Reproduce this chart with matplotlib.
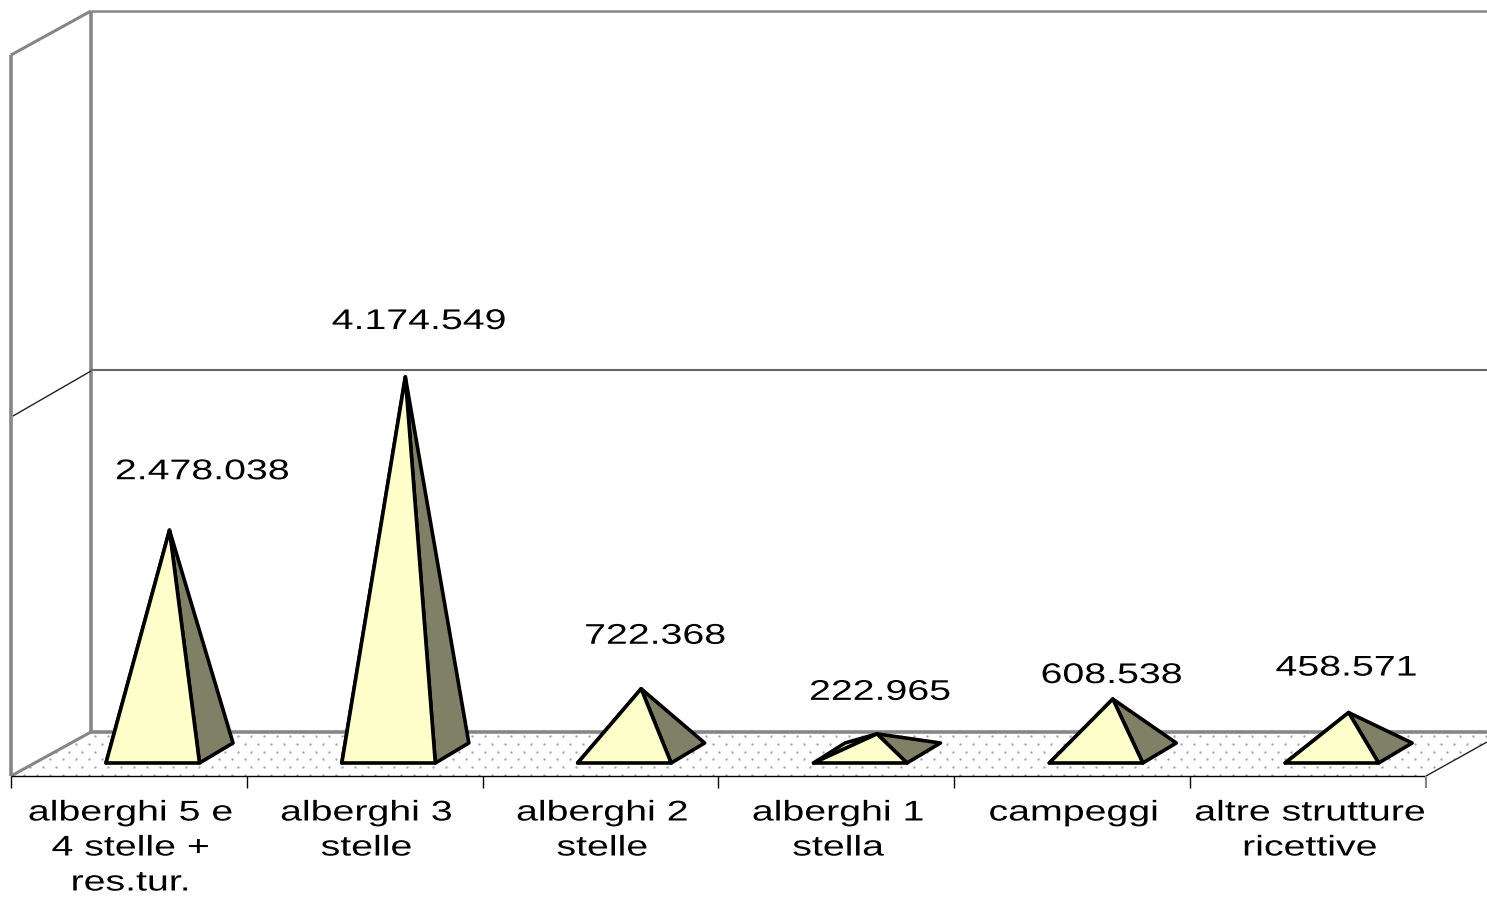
import matplotlib
matplotlib.use("Agg")
import numpy as np
import matplotlib.pyplot as plt
from matplotlib.patches import Polygon
from matplotlib.patheffects import AbstractPathEffect
from matplotlib.transforms import Affine2D

categories = ["alberghi 5 e\n4 stelle +\nres.tur.", "alberghi 3\nstelle", "alberghi 2\nstelle",
              "alberghi 1\nstella", "campeggi", "altre strutture\nricettive"]
values = [2478038, 4174549, 722368, 222965, 608538, 458571]
labels = ["2.478.038", "4.174.549", "722.368", "222.965", "608.538", "458.571"]

# layout: label offset from each apex, in pixels
label_dx = [34, 15, 15, 4, 0, -1]
label_dy = [58, 55, 52, 41, 23, 44]

W, H = 1487, 899
SLOT = 235.83
X0 = 128.5           # pixel of category 0
Y0 = 754.0           # pixel of value 0 at the apex axis
K = 9.03e-5          # pixels per unit
STRETCH = 1.38
FONT_SIZE = 20.5
FONT = "Liberation Sans"

fig = plt.figure(figsize=(W / 100, H / 100), dpi=100, facecolor="white")
ax = fig.add_axes([0, 0, 1, 1])
ax.set_xlim(-X0 / SLOT, (W - X0) / SLOT)
ax.set_ylim((Y0 - H) / K, Y0 / K)
ax.axis("off")


def px(x, y):
    return ((x - X0) / SLOT, (Y0 - y) / K)


def line(pts, color, lw, z=2):
    d = [px(*p) for p in pts]
    ax.plot([p[0] for p in d], [p[1] for p in d], color=color, lw=lw, solid_capstyle="butt", zorder=z)


class Widen(AbstractPathEffect):
    """Draw the text wider around its centre, as in the stretched original."""
    def __init__(self, cx, sx):
        super().__init__()
        self.cx, self.sx = cx, sx

    def draw_path(self, renderer, gc, tpath, affine, rgbFace=None):
        t = affine + Affine2D().translate(-self.cx, 0).scale(self.sx, 1).translate(self.cx, 0)
        renderer.draw_path(gc, tpath, t, rgbFace)


def wide_text(x, y, s, **kw):
    cx = ax.transData.transform((x, y))[0]
    return ax.text(x, y, s, ha="center", fontsize=FONT_SIZE, family=FONT, color="black", zorder=6,
                   path_effects=[Widen(cx, STRETCH)], **kw)


GREY = "#868686"
# floor with dotted fill
floor = Polygon([px(11, 776), px(91, 732), px(1487, 732), px(1487, 742), px(1426, 776)],
                facecolor="white", edgecolor="none", zorder=1)
ax.add_patch(floor)
for r, row_y in enumerate(np.arange(736, 776, 7.8)):
    xs = np.arange(6.5 * (r % 2), W, 13.0) + 4
    dots, = ax.plot((xs - X0) / SLOT, np.full(xs.shape, (Y0 - row_y) / K), ls="none", marker="o",
                    ms=1.7, mfc="#a6a6a6", mec="none", zorder=1.5)
    dots.set_clip_path(floor)

# walls
line([(91, 11), (91, 732)], GREY, 2.6)
line([(11, 55), (11, 776)], GREY, 2.6)
line([(11, 55), (91, 11)], GREY, 2.2)
line([(91, 11), (1487, 11)], GREY, 1.8)
line([(91, 732), (1487, 732)], GREY, 2.6)
line([(11, 776), (91, 732)], GREY, 2.2)
line([(91, 370), (1487, 370)], "#666666", 1.5)
line([(13, 416), (91, 371)], "#222222", 1.0)
# axis
line([(11, 776), (1426, 776)], "black", 1.0, 3)
line([(1426, 776), (1487, 742)], "#222222", 1.0, 3)
for i in range(7):
    x = 11 + SLOT * i
    line([(x, 776), (x, 788)], "black" if i < 6 else GREY, 1.0 if i < 6 else 1.5, 3)

# pyramids
for i, v in enumerate(values):
    c = X0 + SLOT * i
    ap = (i + 41 / SLOT, v)
    fl, fr = px(c - 22.5, 763), px(c + 71, 763)
    br, bl = px(c + 104.5, 743), px(c + 9, 743)
    style = dict(edgecolor="black", lw=2.6, joinstyle="round", zorder=4)
    ax.add_patch(Polygon([fl, bl, ap], facecolor="#FFFFCC", **style))
    ax.add_patch(Polygon([fr, br, ap], facecolor="#808066", **style))
    ax.add_patch(Polygon([fl, fr, ap], facecolor="#FFFFCC", **style))

for i, (v, t) in enumerate(zip(values, labels)):
    wide_text(i + (40 + label_dx[i]) / SLOT, v + label_dy[i] / K, t, va="center")
for i, t in enumerate(categories):
    x, y = px(X0 + SLOT * i + 2, 800.5)
    wide_text(x, y, t, va="top", linespacing=1.45)

fig.savefig("out.png", dpi=100, facecolor="white")
